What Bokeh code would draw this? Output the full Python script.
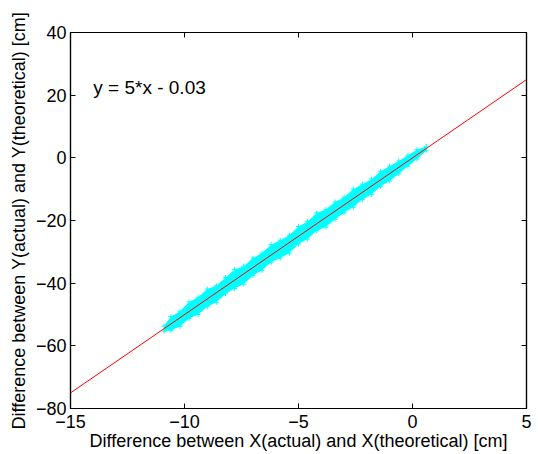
from bokeh.plotting import figure
from bokeh.models import LinearAxis, Range1d, FixedTicker, Label, CustomLabelingPolicy
from bokeh.embed import file_html
from bokeh.resources import INLINE

# ---- data ----
band_x = [-10.9, -10.6, -10.2, -9.8, -9.4, -9.0, -8.6, -8.2, -7.8, -7.4, -7.0, -6.6,
          -6.2, -5.8, -5.4, -5.0, -4.6, -4.2, -3.8, -3.4, -3.0, -2.6, -2.2, -1.8,
          -1.4, -1.0, -0.6, -0.2, 0.2, 0.6]
band_center = [-54.5, -53.0, -51.0, -49.0, -47.0, -45.0, -43.0, -41.0, -39.0, -37.0, -35.0, -33.0,
               -31.0, -29.0, -27.0, -25.0, -23.0, -21.0, -19.0, -17.0, -15.0, -13.0, -11.0, -9.0,
               -7.0, -5.0, -3.0, -1.0, 1.0, 3.0]
band_up = [0.8, 2.3, 2.0, 3.0, 2.5, 3.1, 2.2, 2.8, 3.4, 2.4, 3.0, 2.6, 3.3, 2.7, 2.3, 3.1,
           2.7, 3.4, 2.5, 2.9, 2.4, 3.0, 2.6, 2.2, 2.7, 2.3, 2.0, 1.8, 1.6, 0.7]
band_down = [0.8, 2.1, 2.8, 2.3, 3.0, 2.5, 3.1, 2.4, 2.7, 3.3, 2.6, 2.9, 2.3, 3.0, 3.4, 2.5,
             2.9, 2.3, 3.1, 2.7, 2.5, 2.8, 2.3, 2.7, 2.1, 2.4, 2.1, 1.7, 1.4, 0.7]
fit_x = [-15, 5]
fit_y = [-75.03, 24.97]
x_ticks = [-15, -10, -5, 0, 5]
y_ticks = [-80, -60, -40, -20, 0, 20, 40]
eq_text = "y = 5*x - 0.03"
x_title = "Difference between X(actual) and X(theoretical) [cm]"
y_title = "Difference between Y(actual) and Y(theoretical) [cm]"

FONT = "Liberation Sans"

p = figure(width=530, height=446, output_backend="svg", toolbar_location=None,
           x_range=Range1d(-15, 5), y_range=Range1d(-80, 40),
           min_border_left=70, min_border_right=4, min_border_top=32, min_border_bottom=38,
           x_axis_location=None, y_axis_location=None)
p.frame_width = 456
p.frame_height = 376
p.grid.visible = False
p.outline_line_color = "black"
p.outline_line_width = 1.2
p.background_fill_color = "white"
p.border_fill_color = "white"

lower = [c - d for c, d in zip(band_center, band_down)]
upper = [c + u for c, u in zip(band_center, band_up)]
p.varea(x=band_x, y1=lower, y2=upper, fill_color="#00FFFF")
p.scatter(x=band_x, y=upper, marker="cross", size=5, line_color="#00FFFF", line_width=1)
p.scatter(x=band_x, y=lower, marker="cross", size=5, line_color="#00FFFF", line_width=1)
p.line(x=fit_x, y=fit_y, line_color="#FF0000", line_width=1)

HIDE = """
const all = [];
for (const i of indices) all.push(i);
for (const i of all) indices.unset(i);
return indices;
"""

def style(ax, ticks, labels=True):
    ax.ticker = FixedTicker(ticks=ticks)
    ax.major_tick_in = 5
    ax.major_tick_out = 0
    ax.minor_tick_in = 0
    ax.minor_tick_out = 0
    ax.axis_line_color = "black"
    ax.axis_line_width = 1.2
    ax.major_tick_line_color = "black"
    ax.major_label_text_font = FONT
    ax.major_label_text_font_size = "18px"
    ax.major_label_text_color = "black"
    ax.axis_label_text_font = FONT
    ax.axis_label_text_font_size = "18px"
    ax.axis_label_text_font_style = "normal"
    ax.axis_label_text_color = "black"
    if not labels:
        ax.major_label_policy = CustomLabelingPolicy(code=HIDE)

xb = LinearAxis(axis_label=x_title)
style(xb, x_ticks)
xb.major_label_standoff = 6
xb.axis_label_standoff = 0
yl = LinearAxis(axis_label=y_title)
style(yl, y_ticks)
yl.major_label_standoff = 4
yl.axis_label_standoff = 4
xt = LinearAxis()
style(xt, x_ticks, labels=False)
yr = LinearAxis()
style(yr, y_ticks, labels=False)

p.add_layout(xb, "below")
p.add_layout(yl, "left")
p.add_layout(xt, "above")
p.add_layout(yr, "right")

p.add_layout(Label(x=-14.0, y=22.4, text=eq_text, text_font=FONT, text_font_size="19px",
                   text_baseline="middle", text_align="left", text_color="black"))

open("out.html", "w").write(file_html(p, INLINE))
